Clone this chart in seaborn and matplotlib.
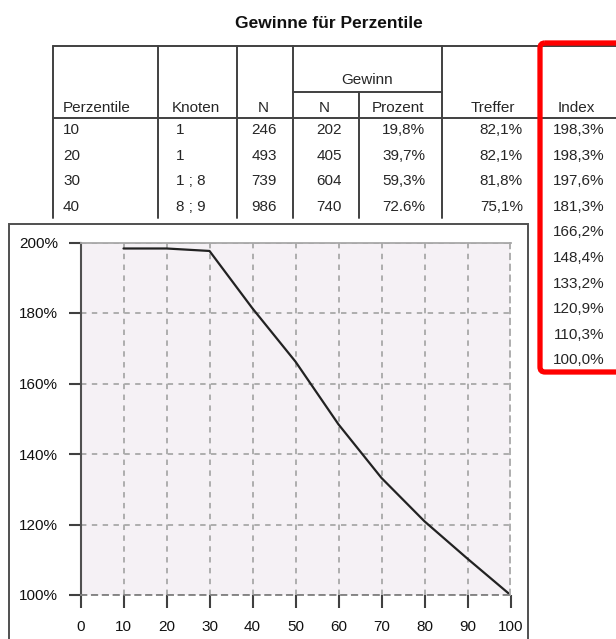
import numpy as np
import pandas as pd
import matplotlib
matplotlib.use("Agg")
import matplotlib.pyplot as plt
import seaborn as sns
from matplotlib.patches import Rectangle, FancyBboxPatch

# table data (visible part)
perzentile = [10, 20, 30, 40, 50, 60, 70, 80, 90, 100]
knoten = ["1", "1", "1 ; 8", "8 ; 9"]
n_total = [246, 493, 739, 986]
n_gewinn = [202, 405, 604, 740]
prozent = ["19,8%", "39,7%", "59,3%", "72.6%"]
treffer = ["82,1%", "82,1%", "81,8%", "75,1%"]
index_vals = [198.3, 198.3, 197.6, 181.3, 166.2, 148.4, 133.2, 120.9, 110.3, 100.0]

sns.set_theme(style="white")
plt.rcParams['font.family'] = ['Liberation Sans', 'DejaVu Sans']

W, H = 616, 639
fig = plt.figure(figsize=(W / 100, H / 100), dpi=100)
fig.patch.set_facecolor("white")

# background axes in pixel coordinates for the table
bg = fig.add_axes([0, 0, 1, 1])
bg.set_xlim(0, W)
bg.set_ylim(H, 0)
bg.axis("off")

line_col = "#404040"
lw = 1.4
fs = 11

bg.text(329, 23, "Gewinne für Perzentile", ha="center", va="center",
        fontsize=12.5, fontweight="bold", color="#111111")

# table grid
bg.plot([53, W], [45.5, 45.5], color=line_col, lw=lw)
bg.plot([53, W], [118, 118], color=line_col, lw=lw)
bg.plot([293, 442], [92, 92], color=line_col, lw=lw)
for x in [53, 158, 237, 293, 442, 540]:
    bg.plot([x, x], [45.5, 218], color=line_col, lw=lw)
bg.plot([359, 359], [92, 218], color=line_col, lw=lw)

# header
hy = 108
bg.text(63, hy, "Perzentile", ha="left", va="center", fontsize=fs)
bg.text(196, hy, "Knoten", ha="center", va="center", fontsize=fs)
bg.text(263, hy, "N", ha="center", va="center", fontsize=fs)
bg.text(324, hy, "N", ha="center", va="center", fontsize=fs)
bg.text(398, hy, "Prozent", ha="center", va="center", fontsize=fs)
bg.text(367, 80, "Gewinn", ha="center", va="center", fontsize=fs)
bg.text(493, hy, "Treffer", ha="center", va="center", fontsize=fs)
bg.text(576, hy, "Index", ha="center", va="center", fontsize=fs)

row_y = [130 + 25.6 * i for i in range(len(perzentile))]
for i in range(len(knoten)):
    y = row_y[i]
    bg.text(63, y, str(perzentile[i]), ha="left", va="center", fontsize=fs)
    bg.text(176, y, knoten[i], ha="left", va="center", fontsize=fs)
    bg.text(277, y, str(n_total[i]), ha="right", va="center", fontsize=fs)
    bg.text(342, y, str(n_gewinn[i]), ha="right", va="center", fontsize=fs)
    bg.text(425, y, prozent[i], ha="right", va="center", fontsize=fs)
    bg.text(523, y, treffer[i], ha="right", va="center", fontsize=fs)
for i, v in enumerate(index_vals):
    bg.text(604, row_y[i], f"{v:.1f}%".replace(".", ","), ha="right", va="center", fontsize=fs)

# chart frame covering the rest of the table
bg.add_patch(Rectangle((9, 224), 519, 440, facecolor="white", edgecolor="#505050", lw=1.4, zorder=5))

# red highlight box
bg.add_patch(FancyBboxPatch((540, 43), 120, 329, boxstyle="round,pad=0,rounding_size=5",
                            facecolor="none", edgecolor="#ff0000", lw=3.8, zorder=6))

# chart
ax = fig.add_axes([80.5 / W, 1 - 595 / H, 430 / W, 352.5 / H])
ax.set_zorder(10)
ax.set_facecolor("#f5f1f5")
df = pd.DataFrame({"Perzentil": perzentile, "Index": index_vals})
sns.lineplot(data=df, x="Perzentil", y="Index", ax=ax, color="#222222", lw=1.6)
ax.set_xlim(0, 100)
ax.set_ylim(100, 200)
ax.set_xticks(range(0, 101, 10))
ax.set_yticks(range(100, 201, 20))
ax.set_yticklabels([f"{t}%" for t in range(100, 201, 20)])
ax.set_xlabel("")
ax.set_ylabel("")
ax.grid(True, color="#a8a8a8", linestyle=(0, (3, 3)), lw=1.3)
ax.tick_params(axis="both", direction="out", length=9, width=1.5, color="#404040",
               labelsize=fs, labelcolor="#111111", left=True, bottom=True)
ax.tick_params(axis="y", pad=7)
ax.tick_params(axis="x", pad=9)
ax.spines["left"].set_color("#505050")
ax.spines["left"].set_linewidth(1.5)
ax.spines["bottom"].set_color("#808080")
ax.spines["bottom"].set_linestyle((0, (3, 3)))
ax.spines["bottom"].set_linewidth(1.3)
ax.spines["top"].set_color("#a8a8a8")
ax.spines["top"].set_linewidth(1.3)
ax.spines["right"].set_color("#a8a8a8")
ax.spines["right"].set_linestyle((0, (3, 3)))
ax.spines["right"].set_linewidth(1.3)

fig.savefig("out.png", dpi=100)
